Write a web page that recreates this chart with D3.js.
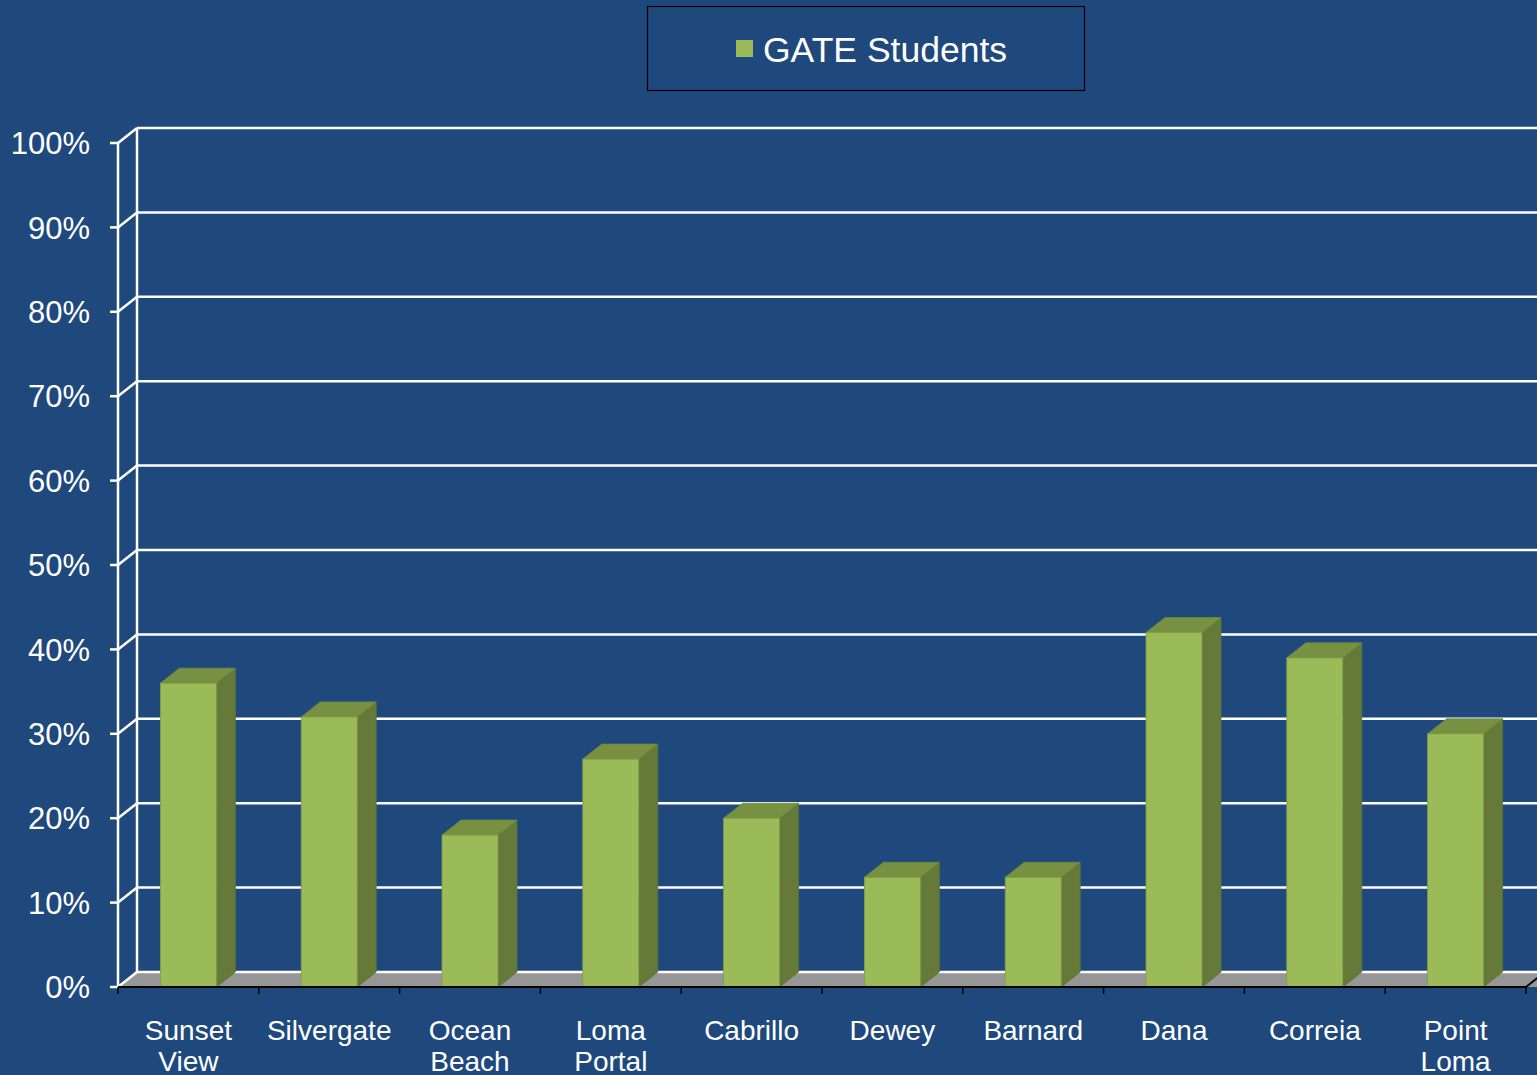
<!DOCTYPE html>
<html><head><meta charset="utf-8">
<script src="https://cdn.jsdelivr.net/npm/d3@7"></script>
<style>html,body{margin:0;padding:0;background:#1F497D;}svg{display:block;}</style>
</head><body>
<svg id="c" width="1537" height="1075"></svg>
<script>
const categories = [["Sunset","View"],["Silvergate"],["Ocean","Beach"],["Loma","Portal"],["Cabrillo"],["Dewey"],["Barnard"],["Dana"],["Correia"],["Point","Loma"]];
const values = [0.36, 0.32, 0.18, 0.27, 0.20, 0.13, 0.13, 0.42, 0.39, 0.30];
const yTicks = [0,0.1,0.2,0.3,0.4,0.5,0.6,0.7,0.8,0.9,1.0];
const seriesName = "GATE Students";

const svg = d3.select("#c");
const W = 1537, H = 1075;
svg.append("rect").attr("width",W).attr("height",H).attr("fill","#1F497D");

const x0 = 118, x1 = 1526, yBot = 987, yTop = 143;
const dx = 19, dy = -15;
const keys = categories.map(c=>c.join(" "));
const x = d3.scaleBand().domain(keys).range([x0,x1]).padding(0);
const y = d3.scaleLinear().domain([0,1]).range([yBot,yTop]);
const font = "'Liberation Sans', Arial, sans-serif";

// floor
svg.append("path")
  .attr("d",`M${x0},${yBot} L${x0+dx},${yBot+dy} L${W+5},${yBot+dy} L${W+5},${yBot} Z`)
  .attr("fill","#969696");

// back wall gridlines
svg.append("g").selectAll("line").data(yTicks).join("line")
  .attr("x1",x0+dx).attr("x2",W)
  .attr("y1",d=>y(d)+dy).attr("y2",d=>y(d)+dy)
  .attr("stroke","#FFFFFF").attr("stroke-width",2.5);
// back wall vertical
svg.append("line").attr("x1",x0+dx).attr("x2",x0+dx)
  .attr("y1",y(1)+dy).attr("y2",y(0)+dy).attr("stroke","#fff").attr("stroke-width",2.5);
// side wall diagonals
svg.append("g").selectAll("line").data(yTicks).join("line")
  .attr("x1",x0).attr("x2",x0+dx)
  .attr("y1",d=>y(d)).attr("y2",d=>y(d)+dy)
  .attr("stroke","#fff").attr("stroke-width",2.5);
// front y axis
svg.append("line").attr("x1",x0).attr("x2",x0).attr("y1",y(1)).attr("y2",y(0))
  .attr("stroke","#fff").attr("stroke-width",2.5);
svg.append("g").selectAll("line").data(yTicks).join("line")
  .attr("x1",x0-8).attr("x2",x0).attr("y1",d=>y(d)).attr("y2",d=>y(d))
  .attr("stroke","#fff").attr("stroke-width",2.5);
svg.append("g").selectAll("text").data(yTicks).join("text")
  .attr("x",90).attr("y",d=>y(d)).attr("dy","0.36em")
  .attr("text-anchor","end").attr("fill","#fff")
  .style("font-family",font).style("font-size","31px")
  .text(d=>d3.format(".0%")(d));

// bars
const bw = 56;
const g = svg.append("g");
keys.forEach((k,i)=>{
  const v = values[i];
  const bx = x(k) + (x.bandwidth()-bw)/2;
  const top = y(v), bot = y(0);
  g.append("path").attr("d",`M${bx+bw},${bot} L${bx+bw+dx},${bot+dy} L${bx+bw+dx},${top+dy} L${bx+bw},${top} Z`)
    .attr("fill","#657A39").attr("stroke","#5E7235").attr("stroke-width",0.8);
  g.append("path").attr("d",`M${bx},${top} L${bx+dx},${top+dy} L${bx+bw+dx},${top+dy} L${bx+bw},${top} Z`)
    .attr("fill","#789042").attr("stroke","#6E8A3E").attr("stroke-width",0.8);
  g.append("rect").attr("x",bx).attr("y",top).attr("width",bw).attr("height",bot-top)
    .attr("fill","#9BBB59").attr("stroke","#7F9E47").attr("stroke-width",0.8);
});

// floor front edge and x axis
svg.append("path")
  .attr("d",`M${x0},${yBot} L${x1},${yBot} L${x1+dx},${yBot+dy}`)
  .attr("fill","none").attr("stroke","#000").attr("stroke-width",2);
const tickXs = keys.map(k=>x(k)).concat([x1]);
svg.append("g").selectAll("line").data(tickXs).join("line")
  .attr("x1",d=>d).attr("x2",d=>d).attr("y1",yBot).attr("y2",yBot+7)
  .attr("stroke","#000").attr("stroke-width",1.5);

// x labels
const xl = svg.append("g");
categories.forEach((lines,i)=>{
  const cx = x(keys[i]) + x.bandwidth()/2;
  const t = xl.append("text").attr("text-anchor","middle").attr("fill","#fff")
    .style("font-family",font).style("font-size","28px");
  lines.forEach((ln,j)=>{
    t.append("tspan").attr("x",cx).attr("y",1040+j*31).text(ln);
  });
});

// legend
svg.append("rect").attr("x",647.5).attr("y",6.5).attr("width",437).attr("height",84)
  .attr("fill","none").attr("stroke","#000").attr("stroke-width",1.2);
svg.append("rect").attr("x",736).attr("y",40).attr("width",17).attr("height",17).attr("fill","#9BBB59");
svg.append("text").attr("x",763).attr("y",49).attr("dy","0.36em").attr("fill","#fff")
  .style("font-family",font).style("font-size","35.5px").text(seriesName);
</script>
</body></html>
